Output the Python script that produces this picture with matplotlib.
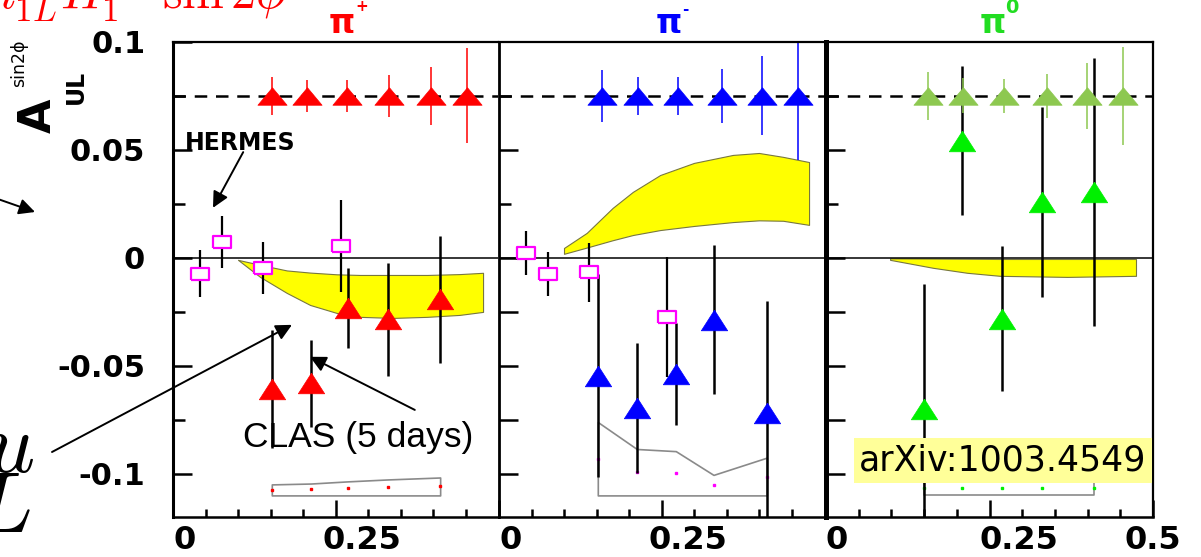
import numpy as np
import matplotlib.pyplot as plt
from matplotlib.transforms import ScaledTranslation

plt.rcParams['mathtext.fontset'] = 'cm'
plt.rcParams['font.family'] = 'DejaVu Sans'

# projected CLAS12 points (all sit on the dashed reference line)
proj_level = 0.075
proj_x_pip = [0.152, 0.206, 0.268, 0.332, 0.397, 0.452]
proj_err_pip = [0.0088, 0.0074, 0.0072, 0.0097, 0.0134, 0.022]
proj_x_pim = [0.158, 0.214, 0.275, 0.343, 0.405, 0.460]
proj_err_pim = [0.012, 0.0086, 0.0088, 0.0123, 0.0183, 0.0296]
proj_x_pi0 = [0.156, 0.209, 0.272, 0.338, 0.399, 0.454]
proj_err_pi0 = [0.011, 0.0081, 0.0079, 0.0102, 0.0153, 0.0229]

# CLAS 5-day data
clas_x_pip = [0.152, 0.212, 0.269, 0.331, 0.411]
clas_y_pip = [-0.0607, -0.0581, -0.0231, -0.0285, -0.0192]
clas_err_pip = [0.0273, 0.0201, 0.0185, 0.026, 0.0294]
clas_x_pim = [0.152, 0.212, 0.272, 0.330, 0.412]
clas_y_pim = [-0.0545, -0.0694, -0.0537, -0.0287, -0.0718]
clas_err_pim = [0.047, 0.030, 0.0236, 0.0345, 0.052]
clas_x_pi0 = [0.150, 0.208, 0.269, 0.330, 0.410]
clas_y_pi0 = [-0.0699, 0.0542, -0.0282, 0.0259, 0.0306]
clas_err_pi0 = [0.058, 0.0345, 0.0336, 0.044, 0.062]

# systematic bands drawn at the bottom
sys_base = -0.11
sys_pip = [0.0051, 0.0055, 0.0065, 0.0074, 0.0083]
sys_pim = [0.034, 0.0215, 0.0205, 0.0095, 0.0175]
sys_pi0 = [0.0065, 0.0065, 0.0065, 0.0065, 0.0065]

# HERMES
hermes_x = [0.0415, 0.0754, 0.138, 0.258]
hermes_y_pip = [-0.0074, 0.0074, -0.0046, 0.0056]
hermes_err_pip = [0.0109, 0.012, 0.012, 0.0213]
hermes_y_pim = [0.0023, -0.0074, -0.0067, -0.0273]
hermes_err_pim = [0.0102, 0.0102, 0.0137, 0.0278]

# model bands
band_x_pip = [0.100, 0.134, 0.175, 0.211, 0.252, 0.288, 0.338, 0.391, 0.441, 0.477]
band_hi_pip = [-0.0009, -0.0032, -0.0058, -0.0068, -0.0076, -0.0079, -0.0079, -0.0079, -0.0075, -0.0069]
band_lo_pip = [-0.0009, -0.0088, -0.0162, -0.0218, -0.0255, -0.0273, -0.0278, -0.0273, -0.0264, -0.025]
band_x_pim = [0.10, 0.135, 0.175, 0.206, 0.248, 0.30, 0.36, 0.40, 0.437, 0.477]
band_hi_pim = [0.0046, 0.0116, 0.0232, 0.0306, 0.0384, 0.0440, 0.0477, 0.0486, 0.0468, 0.0444]
band_lo_pim = [0.0019, 0.0048, 0.0082, 0.0106, 0.0129, 0.0148, 0.0166, 0.0174, 0.0172, 0.0153]
band_x_pi0 = [0.098, 0.164, 0.216, 0.266, 0.369, 0.474]
band_hi_pi0 = [-0.0002, -0.0003, -0.0004, -0.0005, -0.0005, -0.0005]
band_lo_pi0 = [-0.0009, -0.0046, -0.0069, -0.0083, -0.0088, -0.0083]

W, H = 1201, 557
fig = plt.figure(figsize=(W / 100, H / 100), dpi=100)


def px_box(x0, x1, y0, y1):
    return [x0 / W, 1 - y1 / H, (x1 - x0) / W, (y1 - y0) / H]


ax1 = fig.add_axes(px_box(173, 498, 42, 517))
ax2 = fig.add_axes(px_box(499, 824, 42, 517))
ax3 = fig.add_axes(px_box(826, 1153, 42, 517))

tri_flat = [(0, 0.6), (-1, -0.6), (1, -0.6), (0, 0.6)]
tri = [(0, 0.78), (-1, -0.78), (1, -0.78), (0, 0.78)]
rect = [(-1, -0.7), (1, -0.7), (1, 0.7), (-1, 0.7), (-1, -0.7)]

panels = [
    (ax1, 'π', '+', 'red', 'red', 'red',
     proj_x_pip, proj_err_pip, clas_x_pip, clas_y_pip, clas_err_pip, sys_pip,
     band_x_pip, band_lo_pip, band_hi_pip, hermes_y_pip, hermes_err_pip),
    (ax2, 'π', '-', 'blue', 'blue', 'magenta',
     proj_x_pim, proj_err_pim, clas_x_pim, clas_y_pim, clas_err_pim, sys_pim,
     band_x_pim, band_lo_pim, band_hi_pim, hermes_y_pim, hermes_err_pim),
    (ax3, 'π', '0', '#8dc850', '#00f000', '#00f000',
     proj_x_pi0, proj_err_pi0, clas_x_pi0, clas_y_pi0, clas_err_pi0, sys_pi0,
     band_x_pi0, band_lo_pi0, band_hi_pi0, None, None),
]
title_colors = ['red', 'blue', '#22dd22']
title_x = [0.260, 0.261, 0.255]
# charge sign: (dx pt, dy pt, size)
charge_pos = [(9.4, 19.4, 11), (10, 16.6, 11), (8.6, 18.5, 14)]

for i, (ax, name, charge, pcol, ccol, dcol, px, perr, cx, cy, cerr, sysv,
        bx, blo, bhi, hy, herr) in enumerate(panels):
    ax.set_xlim(0, 0.5)
    ax.set_ylim(-0.12, 0.1)

    ax.fill_between(bx, blo, bhi, facecolor='yellow', edgecolor='#77773f',
                    lw=0.8, zorder=1)
    sys_top = [sys_base + s for s in sysv]
    ax.fill_between(cx, sys_base, sys_top, facecolor='white',
                    edgecolor='#8a8a8a', lw=1.2, zorder=1)
    ax.plot(cx, [sys_base + s / 2 for s in sysv], ls='none', marker='s',
            ms=1.5, color=dcol, zorder=1.2)

    ax.axhline(0, color='k', lw=1.1, zorder=1.5)
    ax.axhline(proj_level, color='k', lw=1.8, ls=(0, (5, 3.5)), zorder=2)

    ax.errorbar(cx, cy, yerr=cerr, fmt='none', ecolor='k', elinewidth=1.8,
                capsize=0, zorder=3)
    ax.plot(cx, cy, ls='none', marker=tri, ms=19, color=ccol, mew=0.5,
            zorder=4)

    py = [proj_level] * len(px)
    ax.errorbar(px, py, yerr=perr, fmt='none', ecolor=pcol, elinewidth=1.1,
                capsize=0, zorder=4)
    ax.plot(px, py, ls='none', marker=tri_flat, ms=21, color=pcol, mew=0.5,
            zorder=4.5)

    if hy is not None:
        ax.errorbar(hermes_x, hy, yerr=herr, fmt='none', ecolor='k',
                    elinewidth=1.6, capsize=0, zorder=3)
        ax.plot(hermes_x, hy, ls='none', marker=rect, ms=13, mfc='white',
                mec='magenta', mew=1.6, zorder=5)

    # particle name with a raised charge sign
    trans = ax.get_xaxis_transform()
    ax.text(title_x[i], 1.019, name, color=title_colors[i], fontsize=24,
            weight='bold', ha='center', va='baseline', transform=trans)
    dx, dy, cs = charge_pos[i]
    ax.annotate(charge, xy=(title_x[i], 1.019), xycoords=trans,
                xytext=(dx, dy), textcoords='offset points',
                color=title_colors[i], fontsize=cs, weight='bold',
                ha='left', va='center', annotation_clip=False)

    # frame
    for s in ax.spines.values():
        s.set_linewidth(1.6)
        s.set_zorder(6)
    ax.spines['bottom'].set_linewidth(1.8)
    if i < 2:
        ax.spines['right'].set_visible(False)
    ax.spines['left'].set_linewidth([2.2, 2.0, 3.6][i])

    # ticks
    ax.set_xticks(np.arange(0.05, 0.5, 0.05), minor=True)
    ax.tick_params(axis='x', which='major', direction='in', length=12,
                   width=1.8, pad=6, labelsize=23)
    ax.tick_params(axis='x', which='minor', direction='in', length=5.8,
                   width=1.8)
    ax.tick_params(axis='y', which='major', direction='in', length=14,
                   width=1.8)
    ax.tick_params(axis='y', which='minor', direction='in', length=8.5,
                   width=1.8)

    if i < 2:
        xt, xl, xoff = [0, 0.25], ['0', '0.25'], [12, 26]
    else:
        xt, xl, xoff = [0, 0.25, 0.5], ['0', '0.25', '0.5'], [11, 29, 0]
    ax.set_xticks(xt, xl)
    for lab, off in zip(ax.get_xticklabels(), xoff):
        lab.set_fontweight('bold')
        lab.set_transform(lab.get_transform()
                          + ScaledTranslation(off / 100, 0, fig.dpi_scale_trans))

    if i == 0:
        ax.set_yticks([-0.1, -0.05, 0, 0.05, 0.1],
                      ['-0.1', '-0.05', '0', '0.05', '0.1'])
        ax.set_yticks([-0.075, -0.025, 0.025, 0.075], minor=True)
        ax.tick_params(axis='y', which='major', pad=20, labelsize=22)
        for lab in ax.get_yticklabels():
            lab.set_fontweight('bold')
    else:
        ax.set_yticks([-0.1, -0.075, -0.05, -0.025, 0, 0.05])
        ax.set_yticks([0.025, 0.075], minor=True)
        ax.tick_params(axis='y', labelleft=False)

# annotations in the pi+ panel
arrow = dict(arrowstyle='-|>', color='k', lw=1.4, mutation_scale=24,
             shrinkA=0, shrinkB=0)
ax1.text(0.0185, 0.0532, 'HERMES', fontsize=17, weight='bold', va='center',
         zorder=7)
ax1.annotate('', xy=(0.0615, 0.0232), xytext=(0.108, 0.049),
             arrowprops=arrow, zorder=7)
ax1.text(0.1077, -0.0875, 'CLAS (5 days)', fontsize=25.5,
         family='Liberation Sans', va='baseline', zorder=7)
ax1.annotate('', xy=(0.2107, -0.0458), xytext=(0.372, -0.0704),
             arrowprops=arrow, zorder=7)
ax1.annotate('', xy=(0.183, -0.031), xytext=(52, H - 452),
             textcoords='figure pixels', arrowprops=arrow,
             annotation_clip=False, zorder=7)
ax1.annotate('', xy=(35, H - 212), xycoords='figure pixels',
             xytext=(-5, H - 198), textcoords='figure pixels',
             arrowprops=arrow, annotation_clip=False, zorder=7)

ax3.text(0.2706, -0.0938, 'arXiv:1003.4549', fontsize=25, ha='center',
         va='center', zorder=10,
         bbox=dict(boxstyle='square,pad=0.15', fc='#ffff99', ec='none'))

# y axis title
fig.text(38 / W, 1 - 116 / H, 'A', fontsize=32, weight='bold', rotation=90,
         ha='center', va='center')
fig.text(19 / W, 1 - 63 / H, 'sin2ϕ', fontsize=12.5, rotation=90,
         ha='center', va='center')
fig.text(76 / W, 1 - 87 / H, 'UL', fontsize=17, weight='bold', rotation=90,
         ha='center', va='center')

# slide text around the plot
fig.text(-14 / W, 1 - 8 / H, r'$h_{1L}^{\perp}H_1^{\perp}\ \mathrm{sin}\,2\phi$',
         color='red', fontsize=36, va='baseline')
fig.text(34 / W, 1 - 472 / H, r'$u$', fontsize=62, ha='right', va='baseline')
fig.text(31 / W, 1 - 532 / H, r'$L$', fontsize=62, ha='right', va='baseline')

fig.savefig('out.png', dpi=100)
